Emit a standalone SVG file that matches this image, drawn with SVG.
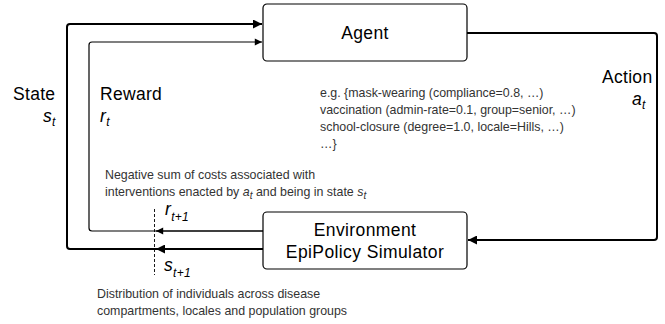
<svg xmlns="http://www.w3.org/2000/svg" width="665" height="324" viewBox="0 0 665 324">
<defs>
<style>
.box{fill:#fff;stroke:#000;stroke-width:1.2}
.lbl{font-family:"Liberation Sans",Arial,sans-serif;fill:#000}
.big{font-size:17.5px;letter-spacing:0.4px}
.mid{font-size:17.5px;letter-spacing:0.3px}
.small{font-family:"Liberation Sans",Arial,sans-serif;font-size:12.4px;fill:#333}
.thick{fill:none;stroke:#000;stroke-width:2}
.thin{fill:none;stroke:#000;stroke-width:1.2}
.it{font-style:italic}
</style>
<marker id="ah" viewBox="0 0 10 10" refX="10" refY="5" markerWidth="6" markerHeight="4.5" orient="auto" markerUnits="strokeWidth">
<path d="M0,0 L10,5 L0,10 z" fill="#000"/>
</marker>
<marker id="ahs" viewBox="0 0 10 10" refX="10" refY="5" markerWidth="8.5" markerHeight="6" orient="auto" markerUnits="strokeWidth">
<path d="M0,0 L10,5 L0,10 z" fill="#000"/>
</marker>
</defs>
<g id="connectors">
<path class="thick" d="M263,249 L70,249 Q67,249 67,246 L67,27 Q67,24 70,24 L262,24" marker-end="url(#ah)"/>
<path class="thick" d="M263,249 L156,249" marker-end="url(#ah)"/>
<path class="thin" d="M263,231 L92,231 Q89,231 89,228 L89,45 Q89,42 92,42 L262,42" marker-end="url(#ahs)"/>
<path class="thin" d="M263,231 L156,231" marker-end="url(#ahs)"/>
<path class="thick" d="M467,33 L654,33 Q657,33 657,36 L657,237 Q657,240 654,240 L468,240" marker-end="url(#ah)"/>
<line x1="154.5" y1="209" x2="154.5" y2="275" stroke="#000" stroke-width="0.9" stroke-dasharray="3,2"/>
</g>
<g id="agent">
<rect class="box" x="263" y="4" width="204" height="57" rx="4"/>
<text class="lbl big" x="365" y="39" text-anchor="middle">Agent</text>
</g>
<g id="environment">
<rect class="box" x="263" y="212" width="204" height="57" rx="4"/>
<text class="lbl big" x="365" y="236" text-anchor="middle">Environment</text>
<text class="lbl big" x="365" y="258" text-anchor="middle">EpiPolicy Simulator</text>
</g>
<g id="labels">
<text class="lbl mid" x="13" y="100">State</text>
<text class="lbl mid it" x="43" y="122">s<tspan font-size="12" dy="4">t</tspan></text>
<text class="lbl mid" x="100" y="100">Reward</text>
<text class="lbl mid it" x="100" y="122">r<tspan font-size="12" dy="4">t</tspan></text>
<text class="lbl mid" x="602" y="83">Action</text>
<text class="lbl mid it" x="632" y="105">a<tspan font-size="12" dy="4">t</tspan></text>
<text class="small" x="320" y="97">e.g. {mask-wearing (compliance=0.8, …)</text>
<text class="small" x="320" y="114">vaccination (admin-rate=0.1, group=senior, …)</text>
<text class="small" x="320" y="131">school-closure (degree=1.0, locale=Hills, …)</text>
<text class="small" x="320" y="148">…}</text>
<text class="small" x="105" y="179">Negative sum of costs associated with</text>
<text class="small" x="105" y="196">interventions enacted by <tspan class="it">a<tspan font-size="10" dy="3">t</tspan></tspan><tspan dy="-3"> and being in state </tspan><tspan class="it">s<tspan font-size="10" dy="3">t</tspan></tspan></text>
<text class="lbl mid it" x="165" y="215">r<tspan font-size="12" dy="6">t+1</tspan></text>
<text class="lbl mid it" x="164" y="271">s<tspan font-size="12" dy="6">t+1</tspan></text>
<text class="small" x="97" y="298">Distribution of individuals across disease</text>
<text class="small" x="97" y="315">compartments, locales and population groups</text>
</g>
</svg>
